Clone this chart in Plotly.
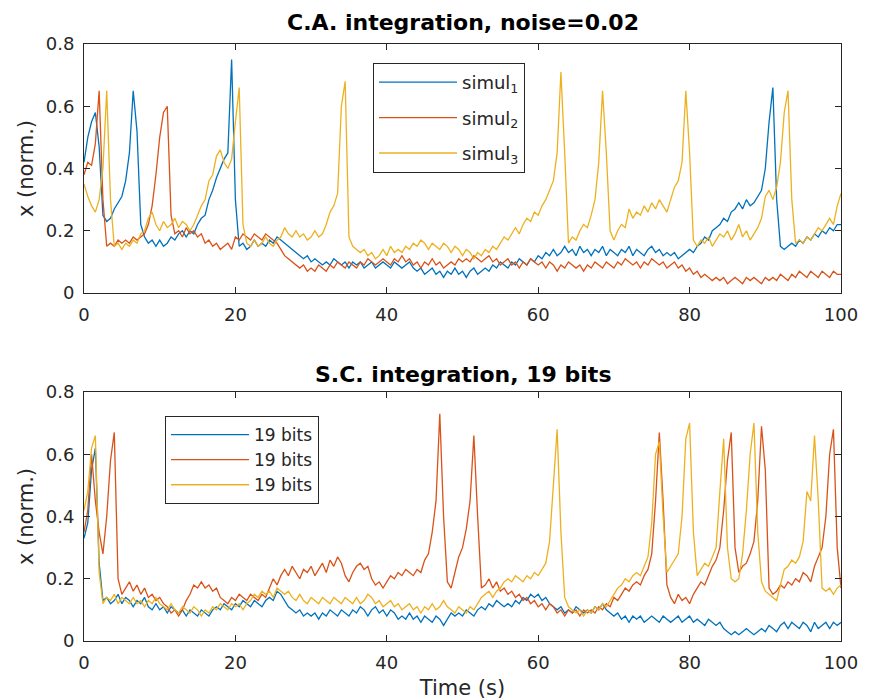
import plotly.graph_objects as go

# sampling grid (s)
time_s = [i * 0.5 for i in range(201)]

# ---- C.A. integration, noise=0.02 ----
ca_simul1 = [
    0.42,0.50,0.55,0.58,0.47,0.25,0.23,0.24,0.27,0.29,0.31,0.36,0.45,0.65,0.52,0.22,0.18,0.16,0.17,0.15,
    0.17,0.15,0.16,0.18,0.17,0.19,0.20,0.18,0.20,0.19,0.22,0.24,0.25,0.30,0.33,0.37,0.40,0.43,0.45,0.75,
    0.30,0.15,0.16,0.14,0.15,0.17,0.15,0.16,0.15,0.17,0.16,0.18,0.17,0.16,0.15,0.14,0.13,0.12,0.11,0.12,
    0.10,0.11,0.10,0.09,0.10,0.09,0.11,0.10,0.09,0.10,0.08,0.10,0.09,0.10,0.08,0.09,0.10,0.08,0.09,0.10,
    0.09,0.08,0.10,0.09,0.08,0.09,0.10,0.08,0.07,0.08,0.06,0.07,0.08,0.06,0.07,0.05,0.07,0.06,0.08,0.06,
    0.07,0.05,0.07,0.08,0.06,0.07,0.08,0.07,0.09,0.08,0.10,0.09,0.08,0.10,0.09,0.11,0.10,0.09,0.11,0.10,
    0.12,0.11,0.13,0.12,0.14,0.12,0.13,0.15,0.13,0.14,0.12,0.15,0.13,0.14,0.12,0.14,0.13,0.15,0.12,0.14,
    0.13,0.12,0.14,0.13,0.15,0.12,0.14,0.13,0.12,0.14,0.15,0.13,0.14,0.12,0.13,0.12,0.13,0.11,0.12,0.13,
    0.14,0.13,0.15,0.16,0.18,0.17,0.20,0.21,0.22,0.24,0.23,0.26,0.27,0.29,0.27,0.30,0.28,0.29,0.31,0.33,
    0.40,0.55,0.66,0.30,0.15,0.14,0.15,0.16,0.15,0.17,0.16,0.18,0.17,0.19,0.18,0.20,0.19,0.21,0.20,0.22,
    0.22]
ca_simul2 = [
    0.38,0.42,0.41,0.48,0.65,0.30,0.15,0.16,0.15,0.17,0.16,0.17,0.16,0.18,0.17,0.18,0.19,0.22,0.28,0.38,
    0.50,0.58,0.60,0.25,0.19,0.20,0.18,0.21,0.19,0.20,0.18,0.19,0.16,0.17,0.15,0.16,0.14,0.15,0.16,0.14,
    0.18,0.17,0.19,0.18,0.17,0.19,0.18,0.17,0.19,0.18,0.17,0.16,0.14,0.12,0.11,0.10,0.09,0.08,0.09,0.07,
    0.08,0.07,0.09,0.08,0.07,0.09,0.08,0.10,0.09,0.08,0.10,0.09,0.08,0.10,0.09,0.11,0.10,0.09,0.10,0.11,
    0.10,0.09,0.11,0.10,0.12,0.10,0.11,0.09,0.10,0.08,0.10,0.09,0.11,0.09,0.10,0.08,0.09,0.10,0.09,0.11,
    0.10,0.11,0.10,0.12,0.11,0.10,0.11,0.12,0.10,0.11,0.09,0.10,0.11,0.09,0.10,0.08,0.10,0.09,0.11,0.10,
    0.09,0.10,0.08,0.10,0.09,0.07,0.09,0.08,0.10,0.09,0.08,0.09,0.07,0.09,0.08,0.10,0.09,0.08,0.10,0.09,
    0.08,0.10,0.09,0.11,0.10,0.09,0.10,0.08,0.10,0.09,0.11,0.10,0.09,0.10,0.08,0.09,0.10,0.08,0.09,0.07,
    0.08,0.06,0.07,0.05,0.06,0.05,0.04,0.05,0.04,0.05,0.03,0.04,0.05,0.04,0.03,0.05,0.04,0.05,0.04,0.03,
    0.05,0.04,0.05,0.04,0.06,0.05,0.04,0.06,0.05,0.07,0.06,0.05,0.07,0.06,0.05,0.07,0.06,0.05,0.07,0.06,
    0.06]
ca_simul3 = [
    0.35,0.31,0.28,0.26,0.30,0.40,0.65,0.30,0.15,0.16,0.14,0.16,0.15,0.17,0.16,0.19,0.20,0.24,0.26,0.22,
    0.20,0.23,0.21,0.22,0.24,0.21,0.23,0.22,0.20,0.22,0.25,0.28,0.30,0.36,0.38,0.44,0.46,0.42,0.40,0.43,
    0.55,0.66,0.22,0.16,0.15,0.17,0.15,0.16,0.18,0.16,0.15,0.17,0.18,0.21,0.19,0.18,0.20,0.18,0.19,0.17,
    0.18,0.20,0.18,0.19,0.22,0.26,0.28,0.32,0.60,0.68,0.18,0.15,0.14,0.13,0.14,0.12,0.13,0.11,0.12,0.14,
    0.12,0.15,0.13,0.14,0.13,0.15,0.14,0.16,0.15,0.17,0.16,0.14,0.16,0.15,0.14,0.16,0.15,0.13,0.15,0.14,
    0.12,0.14,0.13,0.11,0.13,0.12,0.14,0.13,0.15,0.14,0.16,0.18,0.17,0.19,0.21,0.19,0.22,0.24,0.23,0.26,
    0.25,0.28,0.30,0.33,0.36,0.45,0.71,0.45,0.16,0.18,0.17,0.20,0.22,0.21,0.25,0.30,0.42,0.65,0.45,0.20,
    0.17,0.20,0.22,0.21,0.27,0.24,0.26,0.25,0.28,0.26,0.29,0.27,0.30,0.28,0.26,0.30,0.34,0.36,0.42,0.65,
    0.45,0.17,0.15,0.17,0.16,0.18,0.15,0.17,0.19,0.18,0.20,0.17,0.19,0.22,0.18,0.20,0.17,0.19,0.21,0.24,
    0.31,0.33,0.30,0.34,0.42,0.58,0.65,0.30,0.16,0.17,0.16,0.18,0.17,0.19,0.21,0.20,0.22,0.24,0.22,0.28,
    0.32]

# ---- S.C. integration, 19 bits ----
sc_run1 = [
    0.33,0.38,0.55,0.62,0.25,0.13,0.14,0.12,0.13,0.15,0.12,0.14,0.13,0.11,0.13,0.12,0.14,0.11,0.10,0.12,
    0.10,0.11,0.09,0.11,0.10,0.09,0.10,0.08,0.10,0.09,0.08,0.10,0.09,0.08,0.10,0.11,0.10,0.12,0.11,0.10,
    0.12,0.11,0.13,0.12,0.11,0.13,0.12,0.11,0.13,0.14,0.13,0.16,0.15,0.13,0.11,0.10,0.09,0.10,0.08,0.09,
    0.08,0.09,0.07,0.09,0.08,0.10,0.09,0.08,0.10,0.09,0.08,0.10,0.09,0.11,0.10,0.08,0.10,0.11,0.09,0.10,
    0.08,0.10,0.09,0.07,0.08,0.07,0.09,0.07,0.08,0.06,0.08,0.07,0.06,0.08,0.07,0.05,0.07,0.09,0.08,0.09,
    0.08,0.10,0.09,0.08,0.10,0.11,0.10,0.12,0.11,0.13,0.12,0.11,0.12,0.11,0.13,0.12,0.14,0.13,0.15,0.14,
    0.15,0.13,0.14,0.12,0.11,0.10,0.11,0.09,0.10,0.09,0.11,0.10,0.09,0.10,0.09,0.11,0.10,0.12,0.10,0.09,
    0.08,0.09,0.07,0.08,0.06,0.08,0.07,0.08,0.06,0.07,0.08,0.07,0.06,0.08,0.07,0.06,0.07,0.08,0.06,0.07,
    0.08,0.06,0.07,0.06,0.05,0.07,0.06,0.05,0.06,0.04,0.03,0.02,0.03,0.02,0.03,0.04,0.03,0.02,0.03,0.04,
    0.03,0.05,0.04,0.03,0.05,0.06,0.04,0.06,0.05,0.04,0.06,0.05,0.03,0.06,0.04,0.05,0.06,0.04,0.06,0.05,
    0.06]
sc_run2 = [
    0.35,0.42,0.60,0.45,0.35,0.28,0.40,0.58,0.67,0.20,0.15,0.17,0.19,0.16,0.18,0.15,0.17,0.14,0.15,0.13,
    0.14,0.12,0.11,0.09,0.10,0.08,0.10,0.13,0.15,0.18,0.17,0.19,0.17,0.18,0.16,0.17,0.14,0.13,0.12,0.14,
    0.13,0.15,0.14,0.13,0.15,0.14,0.13,0.15,0.14,0.17,0.20,0.18,0.21,0.23,0.21,0.24,0.22,0.20,0.23,0.22,
    0.24,0.21,0.23,0.25,0.22,0.26,0.24,0.27,0.25,0.21,0.19,0.22,0.24,0.25,0.23,0.24,0.20,0.18,0.19,0.17,
    0.19,0.21,0.20,0.22,0.21,0.23,0.22,0.21,0.23,0.22,0.26,0.28,0.35,0.45,0.73,0.40,0.19,0.17,0.22,0.27,
    0.30,0.36,0.45,0.66,0.40,0.17,0.18,0.20,0.17,0.19,0.16,0.17,0.15,0.16,0.14,0.15,0.13,0.14,0.12,0.13,
    0.11,0.12,0.10,0.12,0.11,0.09,0.10,0.08,0.10,0.09,0.10,0.08,0.10,0.09,0.10,0.09,0.11,0.10,0.12,0.11,
    0.14,0.13,0.15,0.17,0.16,0.18,0.19,0.18,0.21,0.23,0.28,0.45,0.67,0.45,0.18,0.14,0.12,0.15,0.13,0.14,
    0.12,0.15,0.17,0.19,0.18,0.21,0.24,0.26,0.30,0.42,0.58,0.67,0.30,0.22,0.24,0.25,0.28,0.32,0.45,0.69,
    0.55,0.17,0.15,0.16,0.18,0.17,0.19,0.18,0.20,0.19,0.22,0.21,0.19,0.24,0.27,0.30,0.40,0.60,0.68,0.30,
    0.17]
sc_run3 = [
    0.42,0.48,0.62,0.66,0.22,0.12,0.14,0.13,0.15,0.12,0.14,0.13,0.12,0.14,0.12,0.13,0.11,0.13,0.12,0.14,
    0.12,0.11,0.10,0.12,0.10,0.09,0.11,0.10,0.09,0.11,0.10,0.08,0.10,0.09,0.11,0.10,0.12,0.11,0.10,0.12,
    0.11,0.12,0.10,0.12,0.13,0.15,0.14,0.16,0.15,0.16,0.14,0.17,0.16,0.15,0.16,0.14,0.13,0.15,0.13,0.12,
    0.14,0.13,0.12,0.14,0.13,0.12,0.14,0.13,0.12,0.14,0.13,0.12,0.14,0.12,0.13,0.15,0.14,0.12,0.13,0.11,
    0.12,0.13,0.11,0.12,0.10,0.11,0.12,0.10,0.11,0.09,0.11,0.10,0.12,0.10,0.11,0.13,0.11,0.10,0.09,0.11,
    0.10,0.09,0.11,0.10,0.12,0.14,0.15,0.16,0.14,0.16,0.17,0.19,0.20,0.19,0.21,0.20,0.19,0.21,0.20,0.22,
    0.21,0.23,0.25,0.32,0.50,0.68,0.35,0.14,0.11,0.10,0.09,0.10,0.08,0.10,0.09,0.11,0.10,0.12,0.11,0.13,
    0.15,0.17,0.18,0.20,0.19,0.21,0.22,0.21,0.24,0.27,0.38,0.60,0.64,0.40,0.22,0.24,0.26,0.28,0.40,0.65,
    0.70,0.35,0.21,0.23,0.25,0.24,0.27,0.30,0.48,0.65,0.30,0.20,0.19,0.20,0.28,0.42,0.60,0.70,0.35,0.19,
    0.16,0.15,0.14,0.13,0.18,0.23,0.24,0.26,0.25,0.27,0.32,0.48,0.45,0.66,0.45,0.17,0.16,0.17,0.15,0.17,
    0.18]

top_names = ["simul<sub>1</sub>", "simul<sub>2</sub>", "simul<sub>3</sub>"]
bottom_names = ["19 bits", "19 bits", "19 bits"]
colors = ["#0072BD", "#D95319", "#EDB120"]
titles = ["C.A. integration, noise=0.02", "S.C. integration, 19 bits"]
x_ticks = [0, 20, 40, 60, 80, 100]
y_ticks = [0, 0.2, 0.4, 0.6, 0.8]
y_tick_text = ["0", "0.2", "0.4", "0.6", "0.8"]

FONT = "DejaVu Sans"
AX = "#262626"

fig = go.Figure()
for i, (name, ys, c) in enumerate(zip(top_names, [ca_simul1, ca_simul2, ca_simul3], colors)):
    fig.add_trace(go.Scatter(x=time_s, y=ys, mode="lines", name=name,
                             line=dict(color=c, width=1.3), xaxis="x", yaxis="y",
                             legend="legend", legendgroup="top%d" % i))
for name, ys, c in zip(bottom_names, [sc_run1, sc_run2, sc_run3], colors):
    fig.add_trace(go.Scatter(x=time_s, y=ys, mode="lines", name=name,
                             line=dict(color=c, width=1.3), xaxis="x2", yaxis="y2",
                             legend="legend2"))

# page body has an 8 px margin; figure sized to sit inside the 869x700 window
W, H = 861, 692
ml, mr, mt, mb = 76, 28, 36, 59
ph = H - mt - mb
pw = W - ml - mr
top_dom = [(633 - 285) / ph, 1.0]
bot_dom = [0.0, (633 - 384) / ph]

axis_common = dict(showline=True, linecolor=AX, linewidth=1, mirror="allticks",
                   ticks="inside", ticklen=6, tickwidth=1, tickcolor=AX,
                   showgrid=False, zeroline=False, ticklabelstandoff=5,
                   tickfont=dict(family=FONT, size=18, color=AX))
title_font = dict(family=FONT, size=21, color=AX)

fig.update_layout(
    width=W, height=H,
    margin=dict(l=ml, r=mr, t=mt, b=mb, autoexpand=False),
    paper_bgcolor="white", plot_bgcolor="white",
    font=dict(family=FONT, color=AX),
    xaxis=dict(domain=[0, 1], range=[0, 100], tickvals=x_ticks, anchor="y", **axis_common),
    yaxis=dict(domain=top_dom, range=[0, 0.8], tickvals=y_ticks, ticktext=y_tick_text,
               anchor="x", title=dict(text="x (norm.)", font=title_font, standoff=6),
               **axis_common),
    xaxis2=dict(domain=[0, 1], range=[0, 100], tickvals=x_ticks, anchor="y2",
                title=dict(text="Time (s)", font=title_font, standoff=8),
                **axis_common),
    yaxis2=dict(domain=bot_dom, range=[0, 0.8], tickvals=y_ticks, ticktext=y_tick_text,
                anchor="x2", title=dict(text="x (norm.)", font=title_font, standoff=6),
                **axis_common),
    legend=dict(x=(373 - 84) / pw, y=(641 - 63) / ph, xanchor="left", yanchor="top",
                bgcolor="white", bordercolor=AX, borderwidth=1, itemwidth=78,
                font=dict(family=FONT, size=18, color=AX), tracegroupgap=9),
    legend2=dict(x=(165 - 84) / pw, y=(641 - 416) / ph, xanchor="left", yanchor="top",
                 bgcolor="white", bordercolor=AX, borderwidth=1, itemwidth=78,
                 font=dict(family=FONT, size=17, color=AX), tracegroupgap=0),
    showlegend=True,
)

# subplot titles
for txt, dom, shift in zip(titles, [top_dom, bot_dom], [7, 3]):
    fig.add_annotation(text="<b>" + txt + "</b>", xref="paper", yref="paper",
                       x=0.5, y=dom[1], yshift=shift, xanchor="center", yanchor="bottom",
                       showarrow=False, font=dict(family=FONT, size=22, color="black"))

fig.write_html("out.html")
